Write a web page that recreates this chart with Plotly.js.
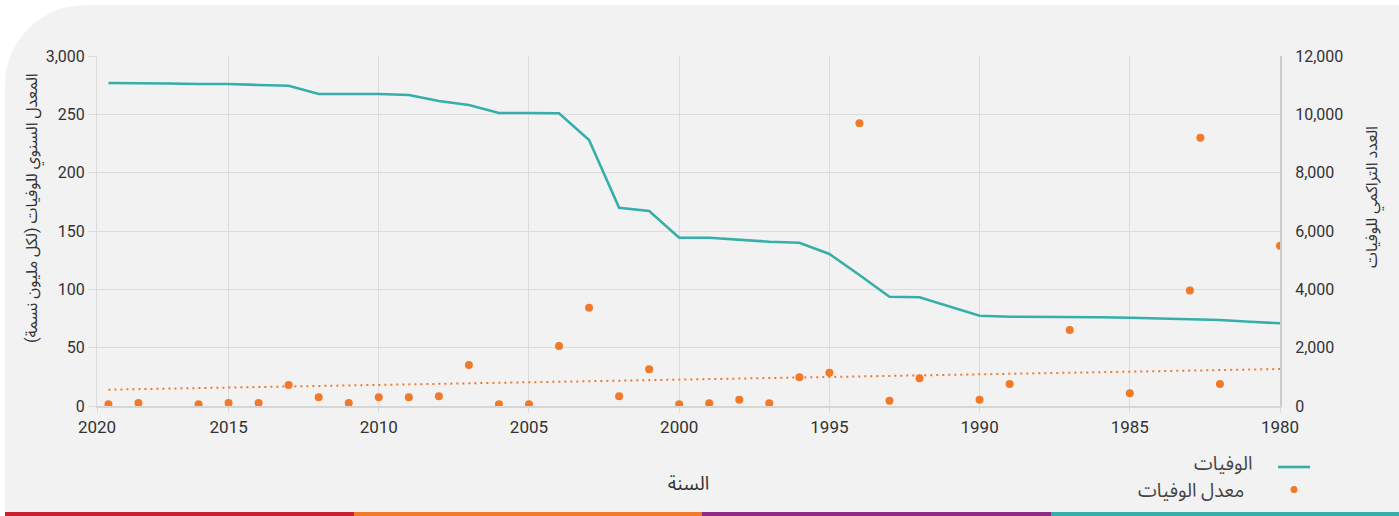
<!DOCTYPE html>
<html>
<head>
<meta charset="utf-8">
<script src="https://cdn.plot.ly/plotly-3.0.1.min.js"></script>
<style>
  html, body { margin: 0; padding: 0; background: #ffffff; }
  #wrap { position: relative; width: 1399px; height: 516px; overflow: hidden; background: #ffffff; }
  #panel { position: absolute; left: 5px; top: 5px; right: 0; bottom: 0; background: #f2f2f2; border-top-left-radius: 80px; }
  #stripe { position: absolute; left: 5px; right: 0; bottom: 0; height: 4px; display: flex; }
  #stripe div { flex: 1; }
  #chart { position: absolute; left: 0; top: 0; width: 1399px; height: 516px; }
</style>
</head>
<body>
<div id="wrap">
  <div id="panel"></div>
  <div id="stripe">
    <div style="background:#c8202f"></div>
    <div style="background:#f07a2a"></div>
    <div style="background:#8e2a84"></div>
    <div style="background:#36aeaa"></div>
  </div>
  <div id="chart"></div>
</div>
<script>
// ---- Data ----
const lineYears = [2019,2018,2017,2016,2015,2014,2013,2012,2011,2010,2009,2008,2007,2006,2005,2004,2003,2002,2001,2000,1999,1998,1997,1996,1995,1994,1993,1992,1991,1990,1989,1988,1987,1986,1985,1984,1983,1982,1981,1980];
const cumulativeDeaths = [11074,11074,11057,11040,11040,11006,10982,10697,10697,10697,10663,10457,10320,10046,10046,10035,9120,6799,6686,5770,5770,5709,5633,5599,5211,4491,3747,3727,3405,3096,3062,3062,3062,3045,3027,3010,2983,2950,2890,2835];

const rateYears = [2019,2018,2016,2015,2014,2013,2012,2011,2010,2009,2008,2007,2006,2005,2004,2003,2002,2001,2000,1999,1998,1997,1996,1995,1994,1993,1992,1990,1989,1987,1985,1983,1982.65,1982,1980];
const deathRate = [1.4,2.6,1.4,2.6,2.6,18,7.4,2.6,7.4,7.4,8.3,35.1,1.4,1.4,51.5,84.3,8.3,31.4,1.4,2.3,5.4,2.3,24.6,28.6,242.3,4.6,23.7,5.3,18.8,65.1,10.9,98.9,230,18.9,137.4];

const trendYears = [2019, 1980];
const trendRate = [14, 31.7];

const xTickVals = [2019.38, 2015, 2010, 2005, 2000, 1995, 1990, 1985, 1980];
const xTickText = ["2020", "2015", "2010", "2005", "2000", "1995", "1990", "1985", "1980"];
const yLeftTickVals = [0, 50, 100, 150, 200, 250, 300];
const yLeftTickText = ["0", "50", "100", "150", "200", "250", "3,000"];

const legendLabels = ["الوفيات", "معدل الوفيات"];
const xTitle = "السنة";
const yLeftTitle = "المعدل السنوي للوفيات (لكل مليون نسمة)";
const yRightTitle = "العدد التراكمي للوفيات";

// ---- Styles ----
const TEAL = "#36aeaa";
const ORANGE = "#f07a2a";
const FONT = "Roboto, 'Noto Sans Arabic', 'DejaVu Sans', sans-serif";
const GRID = "#dcdcdc";
const TXT = "#333333";

// plot area in pixels
const PL = 97, PR = 1280, PT = 56, PB = 406;
const px2x = p => (p - PL) / (PR - PL);
const px2y = p => (PB - p) / (PB - PT);

const traces = [
  {
    x: lineYears, y: cumulativeDeaths, yaxis: "y2", type: "scatter", mode: "lines",
    line: { color: TEAL, width: 2.6 }, name: legendLabels[0], showlegend: false, hoverinfo: "x+y"
  },
  {
    x: trendYears, y: trendRate, type: "scatter", mode: "lines",
    line: { color: ORANGE, width: 2, dash: "2px,4px" }, showlegend: false, hoverinfo: "skip"
  },
  {
    x: rateYears, y: deathRate, type: "scatter", mode: "markers",
    marker: { color: ORANGE, size: 8 }, name: legendLabels[1], showlegend: false, hoverinfo: "x+y"
  }
];

const layout = {
  width: 1399, height: 516,
  margin: { l: PL, r: 1399 - PR, t: PT, b: 516 - PB },
  paper_bgcolor: "rgba(0,0,0,0)",
  plot_bgcolor: "rgba(0,0,0,0)",
  font: { family: FONT, size: 16, color: TXT },
  showlegend: false,
  xaxis: {
    range: [2019.38, 1980],
    tickmode: "array", tickvals: xTickVals, ticktext: xTickText,
    showgrid: true, gridcolor: GRID, gridwidth: 1,
    zeroline: false,
    showline: true, linecolor: "#d6d6d6", linewidth: 2,
    ticks: "outside", ticklen: 5, tickcolor: GRID,
    tickfont: { family: FONT, size: 17, color: TXT },
    title: { text: xTitle, font: { family: FONT, size: 19, color: TXT }, standoff: 40 }
  },
  yaxis: {
    range: [0, 300],
    tickmode: "array", tickvals: yLeftTickVals, ticktext: yLeftTickText,
    showgrid: true, gridcolor: GRID, gridwidth: 1,
    zeroline: false,
    showline: true, linecolor: GRID, linewidth: 1,
    ticks: "outside", ticklen: 8, tickcolor: GRID,
    tickfont: { family: FONT, size: 16, color: TXT }
  },
  yaxis2: {
    overlaying: "y", side: "right",
    range: [0, 12000], dtick: 2000, tickformat: ",",
    showgrid: false, zeroline: false,
    showline: true, linecolor: "#cccccc", linewidth: 2,
    ticks: "", ticklabelstandoff: 10,
    tickfont: { family: FONT, size: 16, color: TXT }
  },
  annotations: [
    { xref: "paper", yref: "paper", x: px2x(33), y: px2y(208), xanchor: "center", yanchor: "middle",
      textangle: -90, text: yLeftTitle, showarrow: false, font: { family: FONT, size: 16, color: TXT } },
    { xref: "paper", yref: "paper", x: px2x(1373), y: px2y(197), xanchor: "center", yanchor: "middle",
      textangle: -90, text: yRightTitle, showarrow: false, font: { family: FONT, size: 16, color: TXT } },
    { xref: "paper", yref: "paper", x: px2x(1254), y: px2y(463), xanchor: "right", yanchor: "middle",
      text: legendLabels[0], showarrow: false, font: { family: FONT, size: 19, color: "#444444" } },
    { xref: "paper", yref: "paper", x: px2x(1246), y: px2y(490), xanchor: "right", yanchor: "middle",
      text: legendLabels[1], showarrow: false, font: { family: FONT, size: 19, color: "#444444" } }
  ],
  shapes: [
    { type: "line", xref: "paper", yref: "paper", x0: px2x(1278), x1: px2x(1310), y0: px2y(467), y1: px2y(467),
      line: { color: TEAL, width: 2.6 } },
    { type: "circle", xref: "paper", yref: "paper", x0: px2x(1290.5), x1: px2x(1297.5), y0: px2y(486), y1: px2y(493),
      fillcolor: ORANGE, line: { width: 0 } }
  ]
};

Plotly.newPlot("chart", traces, layout, { displayModeBar: false, staticPlot: true });
</script>
</body>
</html>
